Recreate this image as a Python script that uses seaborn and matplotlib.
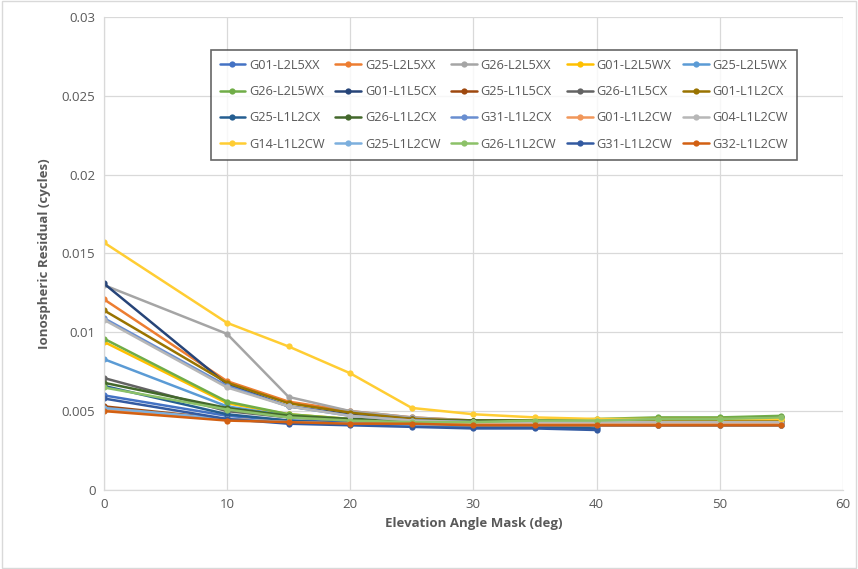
import numpy as np
import pandas as pd
import matplotlib
matplotlib.use("Agg")
import matplotlib.pyplot as plt
import seaborn as sns

elev = [0, 10, 15, 20, 25, 30, 35, 40, 45, 50, 55]
elev_short = [0, 10, 15, 20, 25, 30, 35, 40]

series_names = [
    "G01-L2L5XX", "G25-L2L5XX", "G26-L2L5XX", "G01-L2L5WX", "G25-L2L5WX",
    "G26-L2L5WX", "G01-L1L5CX", "G25-L1L5CX", "G26-L1L5CX", "G01-L1L2CX",
    "G25-L1L2CX", "G26-L1L2CX", "G31-L1L2CX", "G01-L1L2CW", "G04-L1L2CW",
    "G14-L1L2CW", "G25-L1L2CW", "G26-L1L2CW", "G31-L1L2CW", "G32-L1L2CW",
]

G01_L2L5XX = [0.0060, 0.0047, 0.0044, 0.0043, 0.0042, 0.0041, 0.0041, 0.0041, 0.0041, 0.0041, 0.0041]
G25_L2L5XX = [0.0121, 0.0069, 0.0056, 0.0050, 0.0046, 0.0044, 0.0043, 0.0043, 0.0042, 0.0042, 0.0042]
G26_L2L5XX = [0.0130, 0.0099, 0.0059, 0.0050, 0.0046, 0.0044, 0.0043, 0.0043, 0.0043, 0.0043, 0.0043]
G01_L2L5WX = [0.0094, 0.0055, 0.0048, 0.0045, 0.0044, 0.0044, 0.0044, 0.0044, 0.0045, 0.0045, 0.0045]
G25_L2L5WX = [0.0083, 0.0053, 0.0047, 0.0044, 0.0042, 0.0041, 0.0041, 0.0041, 0.0041, 0.0041, 0.0041]
G26_L2L5WX = [0.0096, 0.0056, 0.0048, 0.0045, 0.0044, 0.0044, 0.0044, 0.0045, 0.0046, 0.0046, 0.0047]
G01_L1L5CX = [0.0131, 0.0067, 0.0053, 0.0048, 0.0045, 0.0043, 0.0043, 0.0043, 0.0043, 0.0043, 0.0043]
G25_L1L5CX = [0.0053, 0.0045, 0.0043, 0.0042, 0.0042, 0.0041, 0.0041, 0.0041, 0.0041, 0.0041, 0.0041]
G26_L1L5CX = [0.0071, 0.0050, 0.0046, 0.0044, 0.0043, 0.0043, 0.0043, 0.0043, 0.0043, 0.0043, 0.0043]
G01_L1L2CX = [0.0114, 0.0068, 0.0055, 0.0049, 0.0045, 0.0044, 0.0044, 0.0044, 0.0044, 0.0044, 0.0044]
G25_L1L2CX = [0.0066, 0.0048, 0.0044, 0.0042, 0.0041, 0.0040, 0.0040, 0.0039]
G26_L1L2CX = [0.0068, 0.0052, 0.0047, 0.0045, 0.0044, 0.0044, 0.0044, 0.0044, 0.0045, 0.0045, 0.0046]
G31_L1L2CX = [0.0109, 0.0066, 0.0053, 0.0047, 0.0044, 0.0043, 0.0042, 0.0042, 0.0042, 0.0042, 0.0042]
G01_L1L2CW = [0.0051, 0.0045, 0.0043, 0.0042, 0.0042, 0.0042, 0.0042, 0.0042, 0.0042, 0.0042, 0.0042]
G04_L1L2CW = [0.0108, 0.0065, 0.0053, 0.0047, 0.0044, 0.0043, 0.0043, 0.0043, 0.0043, 0.0043, 0.0043]
G14_L1L2CW = [0.0157, 0.0106, 0.0091, 0.0074, 0.0052, 0.0048, 0.0046, 0.0045, 0.0045, 0.0045, 0.0045]
G25_L1L2CW = [0.0052, 0.0045, 0.0043, 0.0042, 0.0041, 0.0041, 0.0041, 0.0041, 0.0041, 0.0041, 0.0041]
G26_L1L2CW = [0.0065, 0.0051, 0.0046, 0.0044, 0.0043, 0.0043, 0.0044, 0.0044, 0.0045, 0.0045, 0.0046]
G31_L1L2CW = [0.0058, 0.0045, 0.0042, 0.0041, 0.0040, 0.0039, 0.0039, 0.0038]
G32_L1L2CW = [0.0050, 0.0044, 0.0043, 0.0042, 0.0042, 0.0041, 0.0041, 0.0041, 0.0041, 0.0041, 0.0041]

series_values = [
    G01_L2L5XX, G25_L2L5XX, G26_L2L5XX, G01_L2L5WX, G25_L2L5WX,
    G26_L2L5WX, G01_L1L5CX, G25_L1L5CX, G26_L1L5CX, G01_L1L2CX,
    G25_L1L2CX, G26_L1L2CX, G31_L1L2CX, G01_L1L2CW, G04_L1L2CW,
    G14_L1L2CW, G25_L1L2CW, G26_L1L2CW, G31_L1L2CW, G32_L1L2CW,
]

colors = [
    "#4472C4", "#ED7D31", "#A5A5A5", "#FFC000", "#5B9BD5",
    "#70AD47", "#264478", "#9E480E", "#636363", "#997300",
    "#255E91", "#43682B", "#698ED0", "#F1975A", "#B7B7B7",
    "#FFCD33", "#7CAFDD", "#8CC168", "#335AA1", "#D26012",
]

rows = []
for name, vals in zip(series_names, series_values):
    xs = elev if len(vals) == len(elev) else elev_short
    for x, v in zip(xs, vals):
        rows.append({"Elevation": x, "Residual": v, "Series": name})
df = pd.DataFrame(rows)

sns.set_theme(style="white")
plt.rcParams["font.family"] = ["Open Sans", "DejaVu Sans"]

fig = plt.figure(figsize=(8.58, 5.69), dpi=100)
ax = fig.add_axes([0.121, 0.139, 0.8615, 0.831])

sns.lineplot(data=df, x="Elevation", y="Residual", hue="Series",
             hue_order=series_names, palette=colors, marker="o",
             markersize=4.5, markeredgewidth=0, linewidth=1.8,
             sort=False, ax=ax, legend=True)

ax.set_xlim(0, 60)
ax.set_ylim(0, 0.03)
ax.set_xticks(range(0, 61, 10))
ax.set_yticks([0, 0.005, 0.01, 0.015, 0.02, 0.025, 0.03])
ax.set_yticklabels(["0", "0.005", "0.01", "0.015", "0.02", "0.025", "0.03"])
ax.grid(True, color="#D9D9D9", linewidth=0.9)
ax.set_axisbelow(True)
for s in ["top", "right"]:
    ax.spines[s].set_visible(False)
for s in ["left", "bottom"]:
    ax.spines[s].set_color("#D9D9D9")
    ax.spines[s].set_linewidth(0.9)
ax.tick_params(axis="both", colors="#595959", labelsize=9.5, length=0, pad=6)
ax.set_xlabel("Elevation Angle Mask (deg)", fontsize=9.5, fontweight="bold", color="#595959", labelpad=4)
ax.set_ylabel("Ionospheric Residual (cycles)", fontsize=9.5, fontweight="bold", color="#595959", labelpad=8)

handles, labels = ax.get_legend_handles_labels()
ax.get_legend().remove()
ncol, nrow = 5, 4
order = [r * ncol + c for c in range(ncol) for r in range(nrow)]
handles = [handles[i] for i in order]
labels = [labels[i] for i in order]
leg = fig.legend(handles, labels, ncol=ncol, loc="upper left",
                 bbox_to_anchor=(0.238, 0.924), fontsize=9.2,
                 frameon=True, fancybox=False, handlelength=2.0,
                 handletextpad=0.3, columnspacing=0.85, labelspacing=1.05,
                 borderpad=0.7, labelcolor="#595959")
leg.get_frame().set_edgecolor("#404040")
leg.get_frame().set_linewidth(1.2)

fig.patches.append(plt.Rectangle((0.002, 0.002), 0.996, 0.996, transform=fig.transFigure,
                                 fill=False, edgecolor="#D9D9D9", linewidth=1))

fig.savefig("out.png", dpi=100)
